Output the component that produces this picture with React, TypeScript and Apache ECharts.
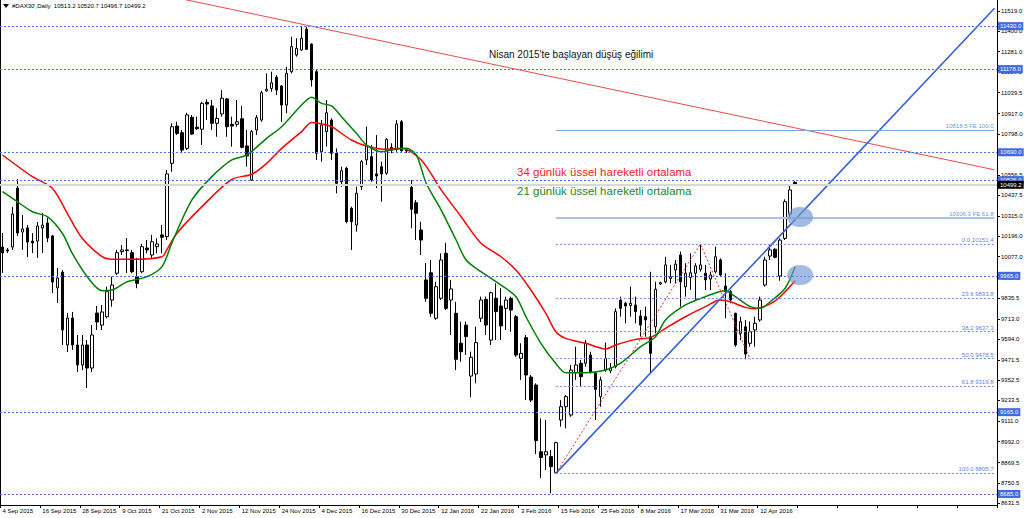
import React, { useEffect, useRef } from 'react';
import * as echarts from 'echarts';

const categories = [
  '4 Sep 2015','7 Sep 2015','8 Sep 2015','9 Sep 2015','10 Sep 2015','11 Sep 2015','14 Sep 2015','15 Sep 2015','16 Sep 2015','17 Sep 2015',
  '18 Sep 2015','21 Sep 2015','22 Sep 2015','23 Sep 2015','24 Sep 2015','25 Sep 2015','28 Sep 2015','29 Sep 2015','30 Sep 2015','1 Oct 2015',
  '2 Oct 2015','6 Oct 2015','7 Oct 2015','8 Oct 2015','9 Oct 2015','12 Oct 2015','13 Oct 2015','14 Oct 2015','15 Oct 2015','16 Oct 2015',
  '19 Oct 2015','20 Oct 2015','21 Oct 2015','22 Oct 2015','23 Oct 2015','26 Oct 2015','27 Oct 2015','28 Oct 2015','29 Oct 2015','30 Oct 2015',
  '2 Nov 2015','3 Nov 2015','4 Nov 2015','5 Nov 2015','6 Nov 2015','9 Nov 2015','10 Nov 2015','11 Nov 2015','12 Nov 2015','13 Nov 2015',
  '16 Nov 2015','17 Nov 2015','18 Nov 2015','19 Nov 2015','20 Nov 2015','23 Nov 2015','24 Nov 2015','25 Nov 2015','26 Nov 2015','27 Nov 2015',
  '30 Nov 2015','1 Dec 2015','2 Dec 2015','3 Dec 2015','4 Dec 2015','7 Dec 2015','8 Dec 2015','9 Dec 2015','10 Dec 2015','11 Dec 2015',
  '14 Dec 2015','15 Dec 2015','16 Dec 2015','17 Dec 2015','18 Dec 2015','21 Dec 2015','22 Dec 2015','23 Dec 2015','28 Dec 2015','29 Dec 2015',
  '30 Dec 2015','31 Dec 2015','4 Jan 2016','5 Jan 2016','6 Jan 2016','7 Jan 2016','8 Jan 2016','11 Jan 2016','12 Jan 2016','13 Jan 2016',
  '14 Jan 2016','15 Jan 2016','18 Jan 2016','19 Jan 2016','20 Jan 2016','21 Jan 2016','22 Jan 2016','25 Jan 2016','26 Jan 2016','27 Jan 2016',
  '28 Jan 2016','29 Jan 2016','1 Feb 2016','2 Feb 2016','3 Feb 2016','4 Feb 2016','5 Feb 2016','8 Feb 2016','9 Feb 2016','10 Feb 2016',
  '11 Feb 2016','12 Feb 2016','15 Feb 2016','16 Feb 2016','17 Feb 2016','18 Feb 2016','19 Feb 2016','22 Feb 2016','23 Feb 2016','24 Feb 2016',
  '25 Feb 2016','26 Feb 2016','29 Feb 2016','1 Mar 2016','2 Mar 2016','3 Mar 2016','4 Mar 2016','7 Mar 2016','8 Mar 2016','9 Mar 2016',
  '10 Mar 2016','11 Mar 2016','13 Mar 2016','14 Mar 2016','15 Mar 2016','16 Mar 2016','17 Mar 2016','18 Mar 2016','21 Mar 2016','22 Mar 2016',
  '23 Mar 2016','24 Mar 2016','29 Mar 2016','30 Mar 2016','31 Mar 2016','1 Apr 2016','4 Apr 2016','5 Apr 2016','6 Apr 2016','7 Apr 2016',
  '8 Apr 2016','11 Apr 2016','12 Apr 2016','13 Apr 2016','14 Apr 2016','15 Apr 2016','18 Apr 2016','19 Apr 2016','20 Apr 2016','21 Apr 2016'
];
const emptySlots = 40;

const open = [
  10134,10117,10134,10480,10222,10246,10169,10169,10246,10275,
  10199,9894,9987,9559,9717,9559,9442,9559,9424,9747,
  9676,9725,9823,9980,10107,10117,10101,9960,9989,10128,
  10087,10136,10205,10195,10625,10844,10805,10713,10895,10837,
  10825,10983,10962,10860,10915,11003,10854,10854,10887,10727,
  10527,10821,10879,11051,11065,11130,11079,10967,11163,11261,
  11290,11412,11325,11163,10693,10811,10879,10684,10517,10596,
  10361,10263,10488,10645,10664,10563,10605,10567,10719,10713,
  10869,10703,10484,10394,10234,9941,9983,9716,9833,10097,
  9823,9745,9569,9676,9377,9389,9716,9827,9588,9833,
  9788,9774,9833,9725,9481,9602,9371,9324,8933,8914,
  8904,8810,9119,9197,9148,9397,9452,9452,9500,9393,
  9256,9412,9408,9432,9823,9804,9790,9794,9729,9725,
  9608,9666,9917,9930,9950,9999,10087,9901,9956,9980,
  10003,9980,9946,9989,10058,9905,9872,9745,9628,9666,
  9569,9647,9706,9911,10081,10121,9964,10185,10328,10513.2
];
const high = [
  10216,10128,10369,10533,10322,10263,10216,10281,10334,10304,
  10205,10011,9999,9747,9753,9618,9618,9588,9676,9788,
  9794,9901,9960,10117,10146,10187,10117,10070,10152,10175,
  10205,10185,10263,10586,10860,10869,10821,10922,10909,10899,
  10987,11001,10997,10948,11055,11007,10899,10997,10962,10821,
  10821,10909,11051,11153,11163,11143,11085,11192,11368,11359,
  11427,11427,11329,11173,10879,10997,10889,10713,10605,10605,
  10371,10488,10645,10840,10733,10791,10635,10772,10743,10879,
  10879,10715,10527,10410,10283,10039,10058,9930,10097,10159,
  9941,9813,9696,9696,9520,9666,9843,9843,9872,9921,
  9892,9843,9843,9735,9569,9618,9383,9334,9129,9119,
  8943,8992,9236,9266,9442,9549,9471,9588,9520,9402,
  9373,9573,9452,9774,9843,9813,9901,9843,9764,9784,
  9989,9930,9930,10077,10029,10058,10107,10039,10097,10039,
  10151.4,10029,9989,10136,10068,9980,9882,9749,9725,9706,
  9696,9725,9843,10077,10146,10127,10185,10414,10504,10520.7
];
const low = [
  9982,10099,10117,10199,10117,10075,10099,10070,10099,10163,
  9864,9806,9559,9518,9530,9401,9412,9307,9401,9647,
  9647,9716,9784,9970,10087,9982,9980,9892,9980,10097,
  10070,10097,10097,10175,10576,10791,10684,10703,10791,10821,
  10733,10879,10821,10781,10899,10781,10723,10840,10713,10605,
  10523,10791,10869,11045,11045,11026,10869,10919,11153,11251,
  11286,11290,11075,10645,10635,10723,10645,10449,10488,10273,
  10117,10224,10469,10615,10517,10479,10400,10557,10684,10693,
  10693,10686,10244,10175,10087,9813,9725,9706,9823,9764,
  9618,9412,9461,9500,9252,9334,9694,9618,9559,9588,
  9588,9647,9637,9490,9354,9236,9225,8919,8777,8826,
  8689,8806,9080,9070,9138,9354,9314,9432,9393,9119,
  9197,9402,9393,9422,9725,9686,9725,9686,9608,9608,
  9393,9628,9911,9921,9921,9921,9784,9843,9882,9823,
  9989,9882,9882,9980,9960,9716,9804,9549,9588,9475,
  9549,9549,9696,9901,10058,10068,9936,10175,10312,10496.7
];
const close = [
  10099,10111,10328,10216,10240,10163,10158,10257,10263,10187,
  9929,9952,9647,9717,9559,9442,9559,9424,9618,9694,
  9753,9872,9911,10101,10117,10114,9989,9921,10136,10117,
  10165,10152,10191,10563,10840,10801,10703,10909,10797,10828,
  10977,10973,10860,10889,11007,10840,10844,10869,10719,10668,
  10811,10893,11040,11060,11098,11055,10967,11153,11310,11300,
  11359,11294,11114,10684,10850,10922,10684,10508,10582,10283,
  10283,10449,10635,10727,10527,10551,10563,10766,10703,10856,
  10699,10697,10355,10332,10175,9833,9745,9901,10058,9774,
  9888,9475,9520,9608,9487,9573,9823,9676,9866,9755,
  9671,9823,9764,9500,9510,9383,9236,8998,8899,8933,
  8845,8986,9197,9256,9412,9442,9373,9569,9397,9299,
  9354,9481,9422,9755,9774,9788,9804,9755,9676,9706,
  9510,9886,9925,10029,9960,10034,9930,9980,9983,10023,
  10029,9941,9970,10077,9970,9872,9823,9559,9696,9506,
  9637,9686,9823,10058,10117,10074,10175,10400,10469,10499.2
];

const ema34 = [
  [0,10674],[6,10547],[10,10479],[13,10332],[16,10185],[20,10077],[22,10062],[26,10062],[32,10077],[33,10120],
  [35,10215],[40,10371],[46,10531],[50,10561],[53,10625],[56,10713],[60,10811],[62,10864],[64,10856],[66,10840],
  [70,10762],[73,10727],[77,10707],[80,10713],[84,10645],[88,10469],[92,10312],[96,10156],[100,10077],[103,9999],
  [106,9882],[109,9745],[111,9637],[113,9598],[117,9569],[121,9536],[123,9559],[127,9592],[130,9604],[133,9657],
  [137,9725],[141,9784],[144,9823],[146,9813],[149,9780],[151,9772],[154,9800],[156,9842],[159,9936]
];
const ema21 = [
  [0,10459],[2,10420],[6,10341],[9,10312],[12,10215],[14,10097],[17,9960],[20,9878],[22,9882],[25,9930],
  [29,9960],[32,10019],[34,10160],[38,10410],[42,10547],[46,10645],[49,10674],[53,10772],[56,10840],[60,10967],
  [62,11013],[64,10977],[66,10962],[68,10899],[71,10801],[73,10733],[76,10693],[78,10703],[81,10713],[83,10674],
  [85,10508],[88,10351],[91,10175],[93,10058],[96,9989],[100,9911],[103,9842],[105,9725],[108,9569],[111,9451],
  [113,9396],[117,9396],[121,9412],[124,9452],[128,9549],[131,9608],[133,9706],[137,9794],[141,9843],[145,9878],
  [147,9843],[150,9784],[152,9774],[154,9813],[157,9892],[159,10018]
];

const yTickValues = [
  8631.5, 8750.5, 8869.5, 8992.0, 9111.0, 9233.5, 9352.5, 9471.5, 9594.0, 9713.0, 9835.5, 9955.0, 10077.0,
  10196.0, 10315.0, 10437.5, 10556.5, 10677.5, 10798.0, 10917.0, 11039.5, 11158.5, 11281.0, 11400.0, 11519.0
];
const yMin = 8620.2;
const yMax = 11583.5;

const levelLines = [11430.0, 11178.0, 10690.0, 10526.0, 9965.0, 9165.0, 8685.0];
const currentPrice = 10499.2;

const fibRatios = ['0.0', '23.6', '38.2', '50.0', '61.8', '100.0'];
const fibPrices = [10151.4, 9833.8, 9637.3, 9478.5, 9319.8, 8805.7];
const feRatios = ['100.0', '61.8'];
const fePrices = [10818.5, 10306.3];
const fibStartBar = 111;
const lineEndBar = 199;

const downTrend = [[30, 11626.6], [199, 10587.0]];
const upTrend = [[111, 8805.7], [199, 11535.0]];
const feGuide = [[111, 8805.7], [140, 10151.4], [150, 9474.7]];
const highlights = [[160, 10310], [160, 9970]];

const headerText = "#DAX30',Daily  10513.2 10520.7 10496.7 10499.2";
const trendNote = "Nisan 2015'te başlayan düşüş eğilimi";
const ema34Note = '34 günlük üssel hareketli ortalama';
const ema21Note = '21 günlük üssel hareketli ortalama';

const FONT = '"Liberation Sans", Arial, sans-serif';

export default function App() {
  const ref = useRef<HTMLDivElement>(null);
  useEffect(() => {
    if (!ref.current) return;
    const chart = echarts.init(ref.current, null, { renderer: 'svg' });
    const xData = categories.concat(new Array(emptySlots).fill(''));
    const candles = categories.map((_, i) => [open[i], close[i], low[i], high[i]]);

    const levelItems: any[] = levelLines.map((v) => ({
      yAxis: v,
      lineStyle: { color: '#4d72e6', type: [2, 2], width: 1 },
      label: {
        show: true, position: 'end', formatter: v.toFixed(1), distance: 1,
        backgroundColor: '#3f6be0', color: '#fff', fontSize: 6, fontFamily: FONT, padding: [1, 2, 1, 2],
      },
    }));
    levelItems.push({
      yAxis: currentPrice,
      lineStyle: { color: '#d8d8d8', type: 'solid', width: 2 },
      label: {
        show: true, position: 'end', formatter: currentPrice.toFixed(1), distance: 1,
        backgroundColor: '#000', color: '#fff', fontSize: 6, fontFamily: FONT, padding: [1, 2, 1, 2],
      },
    });
    const fibItems: any[] = fibPrices.map((p, k) => [
      {
        coord: [fibStartBar, p],
        lineStyle: { color: '#6f8fe8', type: [2, 2], width: 1 },
        label: {
          show: true, position: 'insideEndTop', formatter: fibRatios[k] + ' ' + p.toFixed(1),
          color: '#5f82e4', fontSize: 6, fontFamily: FONT, distance: 1,
        },
      },
      { coord: [lineEndBar, p] },
    ]);
    const feItems: any[] = fePrices.map((p, k) => [
      {
        coord: [fibStartBar, p],
        lineStyle: { color: k === 0 ? '#7ea6d4' : '#a9c3e0', type: 'solid', width: k === 0 ? 1 : 2 },
        label: {
          show: true, position: 'insideEndTop', formatter: p.toFixed(1) + ' FE ' + feRatios[k],
          color: '#6b9bd0', fontSize: 6, fontFamily: FONT, distance: 1,
        },
      },
      { coord: [lineEndBar, p] },
    ]);

    const option: any = {
      animation: false,
      backgroundColor: '#ffffff',
      grid: { left: 0, top: 0, width: 997, height: 505, containLabel: false, outerBoundsMode: 'none' },
      xAxis: {
        type: 'category',
        data: xData,
        boundaryGap: true,
        axisLine: { show: true, lineStyle: { color: '#000', width: 1 } },
        axisTick: { show: true, interval: 7, length: 3, lineStyle: { color: '#000' } },
        axisLabel: { interval: 7, align: 'left', fontSize: 6, fontFamily: FONT, color: '#000', margin: 3 },
        splitLine: { show: false },
      },
      yAxis: {
        type: 'value',
        position: 'right',
        min: yMin,
        max: yMax,
        scale: true,
        axisLine: { show: true, lineStyle: { color: '#000', width: 1 } },
        axisTick: { show: true, length: 3, customValues: yTickValues, lineStyle: { color: '#000' } },
        axisLabel: {
          customValues: yTickValues, formatter: (v: number) => v.toFixed(1),
          fontSize: 6, fontFamily: FONT, color: '#000', margin: 4,
        },
        splitLine: { show: false },
      },
      series: [
        {
          type: 'candlestick',
          data: candles,
          barWidth: 3,
          itemStyle: { color: '#ffffff', color0: '#000000', borderColor: '#000000', borderColor0: '#000000', borderWidth: 1 },
          markLine: {
            silent: true, symbol: ['none', 'none'], animation: false,
            data: [...levelItems, ...fibItems, ...feItems],
          },
        },
        {
          type: 'line', data: ema34, showSymbol: false, smooth: 0.3,
          lineStyle: { color: '#ff0000', width: 1.5 }, itemStyle: { color: '#ff0000' },
        },
        {
          type: 'line', data: ema21, showSymbol: false, smooth: 0.3,
          lineStyle: { color: '#008000', width: 1.5 }, itemStyle: { color: '#008000' },
        },
        {
          type: 'line', data: downTrend, showSymbol: false, clip: true,
          lineStyle: { color: '#f04848', width: 1 },
        },
        {
          type: 'line', data: upTrend, showSymbol: false, clip: true,
          lineStyle: { color: '#3562dc', width: 1.6 },
        },
        {
          type: 'line', data: feGuide, showSymbol: false,
          lineStyle: { color: '#e03030', width: 1, type: [2, 2] },
          markPoint: {
            silent: true, animation: false,
            symbol: 'circle', symbolSize: [26, 20],
            itemStyle: { color: 'rgba(112,150,208,0.65)' },
            label: { show: false },
            data: highlights.map((h) => ({ coord: h })),
          },
        },
      ],
      graphic: [
        { type: 'line', shape: { x1: 0.5, y1: 0, x2: 0.5, y2: 505 }, style: { stroke: '#000', lineWidth: 1 } },
        { type: 'polygon', shape: { points: [[3, 4], [9, 4], [6, 8]] }, style: { fill: '#000' } },
        { type: 'text', x: 12, y: 6, style: { text: headerText, fill: '#000', fontSize: 6, fontFamily: FONT, verticalAlign: 'middle' } },
        { type: 'text', x: 489, y: 54.5, style: { text: trendNote, fill: '#111', fontSize: 10, fontFamily: FONT, verticalAlign: 'middle' } },
        { type: 'text', x: 517, y: 172, style: { text: ema34Note, fill: '#ff2020', fontSize: 11.5, fontFamily: FONT, verticalAlign: 'middle' } },
        { type: 'text', x: 517, y: 191, style: { text: ema21Note, fill: '#1b8a1b', fontSize: 11.5, fontFamily: FONT, verticalAlign: 'middle' } },
      ],
    };
    chart.setOption(option);
    return () => chart.dispose();
  }, []);
  return (
    <div
      ref={ref}
      style={{ position: 'fixed', left: 0, top: 0, width: 1024, height: 518, background: '#fff' }}
    />
  );
}
